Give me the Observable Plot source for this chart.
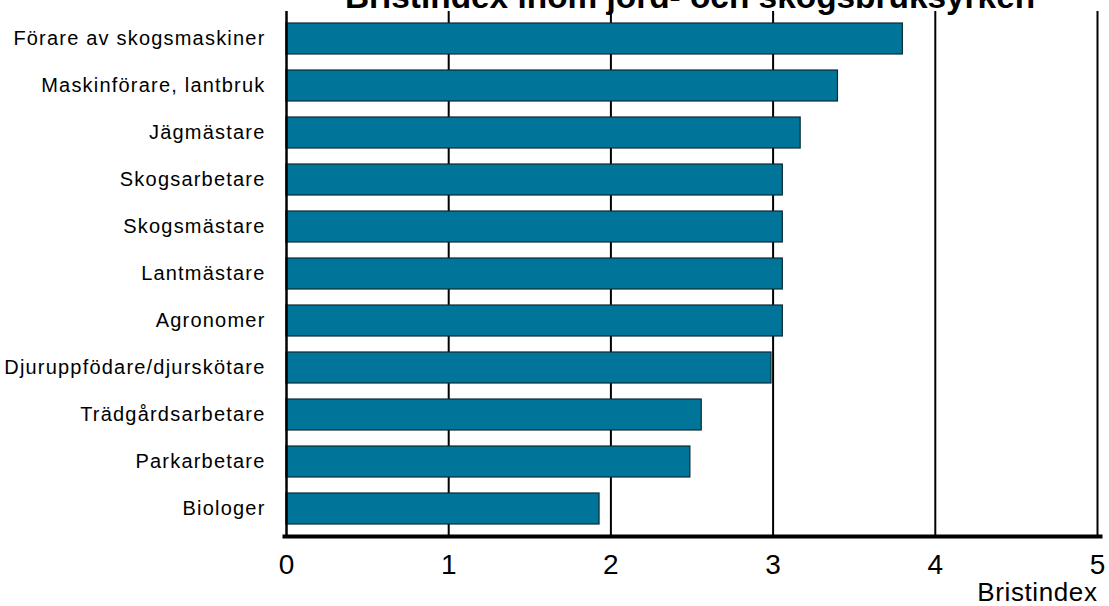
<!DOCTYPE html>
<html>
<head>
<meta charset="utf-8">
<script src="https://cdn.jsdelivr.net/npm/d3@7"></script>
<script src="https://cdn.jsdelivr.net/npm/@observablehq/plot@0.6"></script>
<style>
  html, body { margin: 0; padding: 0; background: #fff; }
  #chart svg { display: block; }
  #chart g[aria-label="y-axis tick label"] text { letter-spacing: 1.2px; }
  #chart g.xlab text { letter-spacing: 0.6px; }
</style>
</head>
<body>
<div id="chart"></div>
<script>
const categories = [
  "Förare av skogsmaskiner",
  "Maskinförare, lantbruk",
  "Jägmästare",
  "Skogsarbetare",
  "Skogsmästare",
  "Lantmästare",
  "Agronomer",
  "Djuruppfödare/djurskötare",
  "Trädgårdsarbetare",
  "Parkarbetare",
  "Biologer"
];
const values = [3.80, 3.40, 3.17, 3.06, 3.06, 3.06, 3.06, 2.99, 2.56, 2.49, 1.93];
const xTicks = [0, 1, 2, 3, 4, 5];
const gridTicks = [1, 2, 3, 4, 5];
const titleText = "Bristindex inom jord- och skogsbruksyrken";
const xLabel = "Bristindex";

const data = categories.map((c, i) => ({ name: c, value: values[i] }));

const chart = Plot.plot({
  width: 1109,
  height: 606,
  marginLeft: 286,
  marginRight: 12,
  marginTop: 11,
  marginBottom: 70,
  style: { fontFamily: "'Liberation Sans', Arial, sans-serif", color: "#000", background: "#fff", overflow: "visible" },
  x: { domain: [0, 5], axis: null },
  y: { domain: categories, paddingInner: 0.34, paddingOuter: 0.185, axis: null },
  marks: [
    Plot.ruleX(gridTicks, { stroke: "#000", strokeWidth: 2 }),
    Plot.barX(data, { x: "value", y: "name", fill: "#017599", stroke: "#0a2a33", strokeWidth: 1.2 }),
    Plot.ruleX([0], { stroke: "#000", strokeWidth: 2.5, insetBottom: -1 }),
    Plot.frame({ anchor: "bottom", stroke: "#000", strokeWidth: 4, insetLeft: -2, insetRight: -3 }),
    Plot.axisY({ tickSize: 0, tickPadding: 21, fontSize: 20, label: null }),
    Plot.axisX({ ticks: xTicks, tickFormat: d3.format("d"), tickSize: 0, tickPadding: 18, fontSize: 28, label: null }),
    Plot.text([xLabel], { frameAnchor: "bottom-right", text: d => d, dy: 46, fontSize: 26, textAnchor: "end", lineAnchor: "top", className: "xlab" }),
    Plot.text([titleText], { frameAnchor: "top", text: d => d, dy: -27.4, dx: -2, fontSize: 33.4, fontWeight: "bold", lineAnchor: "top" })
  ]
});
document.getElementById("chart").appendChild(chart);
</script>
</body>
</html>
